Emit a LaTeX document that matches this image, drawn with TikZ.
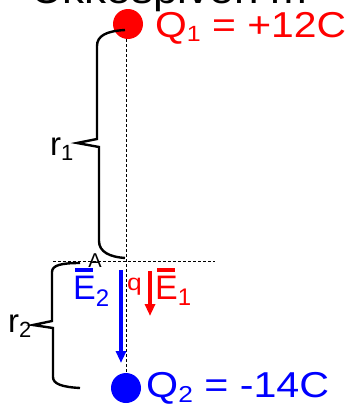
\documentclass[tikz,border=0pt]{standalone}
\usepackage{fontspec}
\setmainfont{Liberation Sans}
\usetikzlibrary{arrows.meta}
\definecolor{qred}{RGB}{255,0,0}
\definecolor{qblue}{RGB}{0,0,255}
\newcommand{\lsub}[3]{\raisebox{-#1pt}{\fontsize{#2}{#2}\selectfont #3}}
\newcommand{\barE}{\rlap{\hspace{0.06em}\raisebox{0.8em}{\rule{0.52em}{0.11em}}}E}
\begin{document}
\begin{tikzpicture}[x=1pt,y=-1pt,
  lab/.style={inner sep=0pt, anchor=base west},
  bigfont/.style={font=\fontsize{36}{40}\selectfont},
  efont/.style={font=\fontsize{34}{36}\selectfont},
  rfont/.style={font=\fontsize{33}{36}\selectfont},
  dot/.style={circle, inner sep=0pt, minimum size=30pt},
  dline/.style={dashed, dash pattern=on 3pt off 2pt, line width=0.8pt},
  bracestyle/.style={line width=2.4pt, line join=miter},
  farrow/.style={line width=3.6pt, -{Triangle[length=12pt,width=10pt]}}]
\useasboundingbox (0,0) rectangle (348,407);
\clip (0,0) rectangle (348,407);
% clipped title
\node[lab, font=\fontsize{40}{44}\selectfont] (title) at (31,3) {\scalebox{1.1}[1]{Ukkespiven m}};
% charges
\node[dot, fill=qred] (q1) at (128,24) {};
\node[dot, fill=qblue] (q2) at (126,388) {};
% dashed axis lines
\coordinate (hl) at (53,261);
\coordinate (hr) at (215,261);
\draw[dline] (q2.center |- q1.south) -- (q2.north);
\draw[dline] (hl) -- (hr);
% brace r1
\draw[bracestyle] (125,30) .. controls (106,31) and (97,36) .. (97,46) -- (97,139) -- (77,143) -- (99,147) -- (99,241) .. controls (99,252) and (110,257) .. (125,258);
% brace r2
\draw[bracestyle] (80,263) .. controls (62,263) and (52,265) .. (52,272) -- (52,321) -- (33,325) -- (53,328) -- (53,377) .. controls (53,384) and (62,387) .. (80,388);
% labels
\node[lab, bigfont, text=qred] (q1lab) at (155,37) {\resizebox{191pt}{\height}{Q\lsub{4}{22}{1} = +12C}};
\node[lab, bigfont, text=qblue] (q2lab) at (146,397) {\resizebox{183pt}{\height}{Q\lsub{5}{23}{2} = -14C}};
\node[lab, rfont] (r1) at (50,155) {r\lsub{5}{22}{1}};
\node[lab, rfont] (r2) at (8,332) {r\lsub{5}{22}{2}};
\node[inner sep=0pt, anchor=base, font=\fontsize{20}{22}\selectfont] (A) at (95,267) {A};
\node[lab, font=\fontsize{23}{24}\selectfont, text=qred] (q) at (127,290) {\scalebox{1.15}[1]{q}};
\node[lab, efont, text=qblue] (e2lab) at (73,299) {\barE\lsub{7}{24}{2}};
\node[lab, efont, text=qred] (e1lab) at (155,299) {\barE\lsub{6}{24}{1}};
% field arrows
\coordinate (e2s) at (121,270);
\coordinate (e2e) at (121,363);
\coordinate (e1s) at (150,271);
\coordinate (e1e) at (150,316);
\draw[farrow, qblue] (e2s) -- (e2e);
\draw[farrow, qred] (e1s) -- (e1e);
\end{tikzpicture}
\end{document}
